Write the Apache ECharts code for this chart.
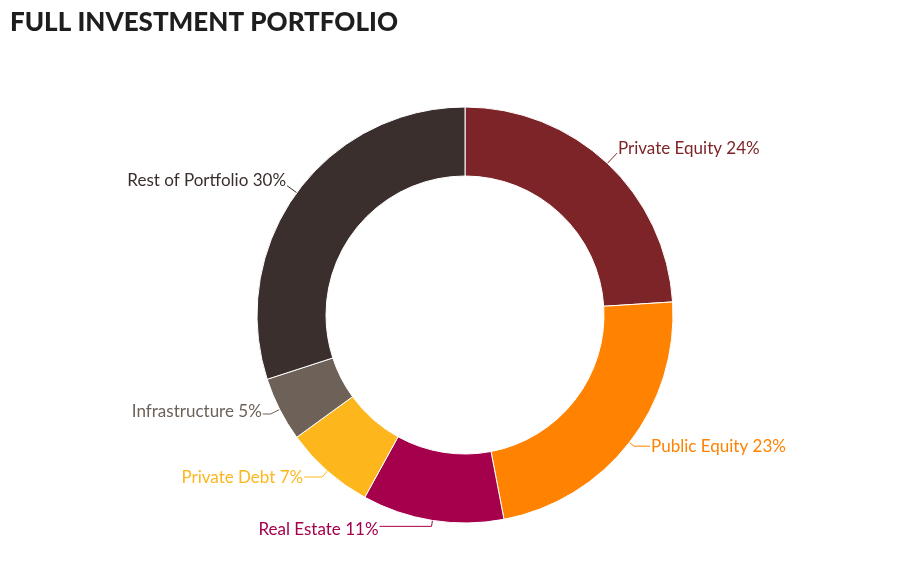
<!DOCTYPE html>
<html>
<head>
<meta charset="utf-8">
<title>Full Investment Portfolio</title>
<script src="https://cdn.jsdelivr.net/npm/echarts@6/dist/echarts.min.js"></script>
<style>
  html, body { margin: 0; padding: 0; background: #fff; }
  #chart { width: 917px; height: 582px; }
</style>
</head>
<body>
<div id="chart"></div>
<script>
// ==========================
// data
// ==========================
var categories = ['Private Equity', 'Public Equity', 'Real Estate', 'Private Debt', 'Infrastructure', 'Rest of Portfolio'];
var shares = [24, 23, 11, 7, 5, 30];
var colors = ['#7d2428', '#ff8200', '#a5004c', '#fdb71d', '#6d6158', '#3a2f2d'];

// label guide tweaks per slice (length, length2, lift of the text; negative lift pushes it down)
var guide = {
    'Private Equity':    [14, 0, 5],
    'Public Equity':     [6, 16, 0],
    'Real Estate':       [6, 52, -3],
    'Private Debt':      [8, 18, 0],
    'Infrastructure':    [10, 8, 2],
    'Rest of Portfolio': [12, 0, 5]
};

var pieData = [];
for (var i = 0; i < categories.length; i++) {
    var g = guide[categories[i]];
    pieData.push({
        name: categories[i],
        value: shares[i],
        itemStyle: { color: colors[i] },
        label: { color: colors[i] },
        labelLine: { length: g[0], length2: g[1] }
    });
}

var chart = echarts.init(document.getElementById('chart'));
var option = {
    animation: false,
    title: {
        text: 'FULL INVESTMENT PORTFOLIO',
        left: 5,
        top: 5,
        textStyle: {
            fontFamily: 'Lato',
            fontWeight: 900,
            fontSize: 26,
            color: '#1e1e1e'
        }
    },
    series: [{
        type: 'pie',
        center: [465, 315],
        radius: [139, 208],
        startAngle: 90,
        clockwise: true,
        avoidLabelOverlap: false,
        itemStyle: {
            borderColor: '#fff',
            borderWidth: 1
        },
        label: {
            show: true,
            position: 'outside',
            formatter: '{b} {c}%',
            fontFamily: 'Lato',
            fontSize: 17,
            distanceToLabelLine: 1
        },
        labelLine: {
            show: true,
            lineStyle: { width: 1 }
        },
        labelLayout: function (params) {
            return { dy: -guide[categories[params.dataIndex]][2] };
        },
        data: pieData
    }]
};
chart.setOption(option);
</script>
</body>
</html>
